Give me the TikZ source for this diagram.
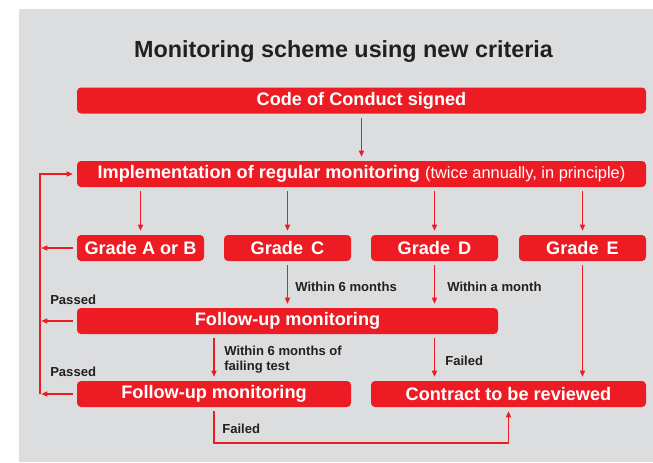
\documentclass[tikz,border=0pt]{standalone}
\usepackage{fontspec}
\setmainfont{Liberation Sans}
\usetikzlibrary{arrows.meta}
\definecolor{monred}{HTML}{ED1C24}
\definecolor{mongrey}{HTML}{DCDDDF}
\definecolor{montext}{HTML}{231F20}
\newcommand{\boxfont}{\fontsize{13.6}{16}\selectfont\bfseries}
\newcommand{\notefont}{\fontsize{9.8}{11.3}\selectfont\bfseries}

\begin{document}
\begin{tikzpicture}[x=0.75pt, y=-0.75pt,
    box/.style={fill=monred, text=white, rounded corners=3pt,
        minimum height=19.5pt, inner sep=0pt, font=\boxfont},
    flow/.style={draw=monred, line width=0.8pt,
        -{Triangle[length=4.5pt,width=3.8pt]},
        shorten <=3pt, shorten >=3pt},
    note/.style={text=montext, font=\notefont, inner sep=0pt,
        anchor=west, align=left}]

    \useasboundingbox (0,0) rectangle (653,462);
    \fill [mongrey] (19,9) rectangle (653,462);

    \node [text=montext, font=\fontsize{17.5}{20}\selectfont\bfseries]
        (title) at (343.5, 52) {Monitoring scheme using new criteria};

    % boxes
    \node [box, minimum width=426.75pt] (code) at (361.5, 100.5)
        {Code of Conduct signed};
    \node [box, minimum width=426.75pt] (impl) at (361.5, 174)
        {Implementation of regular monitoring
         {\fontsize{12.3}{15}\selectfont\mdseries (twice annually, in principle)}};
    \node [box, minimum width=95.25pt] (gA) at (140.5, 248) {Grade A or B};
    \node [box, minimum width=95.25pt] (gC) at (287.5, 248) {Grade\, C};
    \node [box, minimum width=95.25pt] (gD) at (434.5, 248) {Grade\, D};
    \node [box, minimum width=95.25pt] (gE) at (582.5, 248) {Grade\, E};
    \node [box, minimum width=315.75pt] (fu1) at (287.5, 321)
        {Follow-up monitoring};
    \node [box, minimum width=205.5pt] (fu2) at (214, 394)
        {Follow-up monitoring};
    \node [box, minimum width=206.25pt] (review) at (508.5, 394)
        {Contract to be reviewed};

    \coordinate (loop) at (40, 0);
    \coordinate (bend) at (0, 443);

    % downward flow
    \draw [flow] (code) -- (impl);
    \foreach \g in {gA, gC, gD, gE}
        \draw [flow] (impl.south -| \g) -- (\g);
    \draw [flow] (gC) -- (gC |- fu1.north);
    \draw [flow] (gD) -- (gD |- fu1.north);
    \draw [flow] (gE) -- (gE |- review.north);
    \draw [flow] (fu2 |- fu1.south) -- (fu2);
    \draw [flow] (gD |- fu1.south) -- (gD |- review.north);
    \draw [flow] (fu2.south) -- (fu2.south |- bend) -| (review.south);

    % back to regular monitoring
    \foreach \b in {gA, fu1, fu2}
        \draw [flow, shorten >=1pt] (\b.west) -- (\b.west -| loop);
    \draw [flow, shorten <=0pt] (fu2.west -| loop) |- (impl.west);

    % labels
    \node [note] (l6m) at (295, 287) {Within 6 months};
    \node [note] (l1m) at (447, 287) {Within a month};
    \node [note] (pass1) at (50, 300) {Passed};
    \node [note] (l6f) at (224, 359.5) {Within 6 months of\\failing test};
    \node [note] (fail1) at (445, 361) {Failed};
    \node [note] (pass2) at (50, 372) {Passed};
    \node [note] (fail2) at (222, 429) {Failed};
\end{tikzpicture}
\end{document}
